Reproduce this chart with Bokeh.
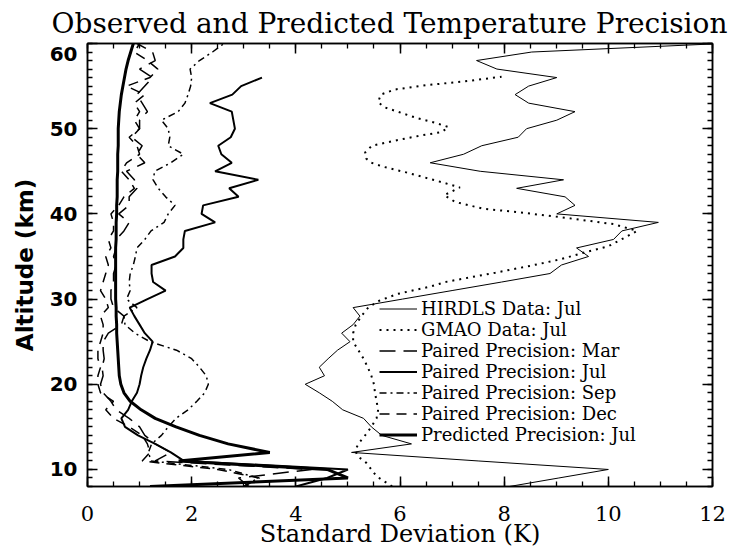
from bokeh.plotting import figure
from bokeh.models import Range1d, LinearAxis, Legend, LegendItem, SingleIntervalTicker
from bokeh.embed import file_html
from bokeh.resources import INLINE

# ---------------- data ----------------
alt_full = list(range(8, 61))          # 8 .. 60 km

hirdls_jul = [8.1, 9.05, 10.0, 7.5, 5.07, 6.22, 5.65, 5.45, 5.3, 4.9,
              4.7, 4.45, 4.18, 4.55, 4.45, 4.62, 4.8, 5.04, 4.88, 5.1,
              5.23, 5.1, 6.05, 7.0, 7.95, 8.88, 9.1, 9.62, 9.39, 10.1,
              10.26, 10.96, 9.01, 9.36, 9.17, 8.24, 9.14, 7.54, 6.58, 7.22,
              7.57, 8.27, 8.43, 9.01, 9.36, 8.47, 8.21, 8.47, 9.01, 7.86,
              7.47, 8.53, 12.2]

gmao_alt = [8.0, 9.2, 10.0, 10.8, 11.5, 12.2, 13.0, 14.0, 15.0, 16.0,
            17.0, 18.0, 19.0, 20.0, 21.0, 22.0, 23.0, 24.0, 25.0, 26.0,
            27.0, 28.0, 29.0, 29.8, 30.6, 31.5, 32.0, 33.1, 33.9, 34.7,
            35.4, 36.2, 37.0, 38.0, 38.8, 39.6, 40.2, 40.6, 41.4, 42.2,
            43.1, 43.9, 44.4, 44.9, 45.5, 46.0, 46.5, 47.2, 48.0, 48.6,
            49.2, 49.6, 50.2, 50.7, 51.2, 51.7, 52.5, 53.1, 54.0, 54.6,
            55.1, 55.6, 56.1]
gmao_jul = [5.85, 5.55, 5.45, 5.35, 5.2, 5.14, 5.2, 5.33, 5.45, 5.55,
            5.58, 5.55, 5.52, 5.5, 5.45, 5.38, 5.3, 5.2, 5.1, 5.1,
            5.15, 5.26, 5.39, 5.6, 5.95, 6.6, 6.87, 7.83, 8.5, 9.1,
            9.5, 10.0, 10.25, 10.55, 10.1, 9.1, 8.27, 7.6, 7.06, 6.85,
            7.15, 6.7, 6.4, 6.1, 5.7, 5.45, 5.35, 5.33, 5.46, 5.9,
            6.4, 6.8, 6.93, 6.67, 6.35, 6.1, 5.71, 5.58, 5.63, 5.9,
            6.5, 7.3, 7.95]

paired_mar = [3.1, 2.9, 4.3, 1.3, 1.6, 1.3, 1.1, 1.0, 0.8, 0.55,
              0.45, 0.3, 0.25, 0.3, 0.28, 0.32, 0.3, 0.3, 0.4, 0.65,
              0.7, 0.5, 0.45, 0.45, 0.5, 0.5, 0.55, 0.5, 0.55, 0.55,
              0.7, 0.8, 0.6, 0.8, 0.8, 0.95, 0.9, 0.75, 1.1, 0.95,
              1.05, 0.85, 1.0, 1.0, 1.15, 1.05, 0.95, 1.1, 1.25, 1.0,
              1.3, 1.25, 0.95]

alt_jul = list(range(8, 57))
paired_jul = [4.0, 4.6, 5.0, 1.85, 1.6, 1.3, 0.97, 0.72, 0.65, 0.78,
              0.85, 0.95, 1.0, 1.03, 1.07, 1.13, 1.2, 1.25, 1.1, 1.0,
              0.9, 0.81, 1.15, 1.5, 1.26, 1.23, 1.23, 1.68, 1.84, 1.84,
              1.87, 2.45, 2.19, 2.22, 2.9, 2.72, 3.28, 2.45, 2.77, 2.57,
              2.51, 2.75, 2.83, 2.8, 2.77, 2.35, 2.78, 2.95, 3.35]

paired_sep = [3.0, 3.28, 2.7, 1.22, 1.17, 1.23, 1.42, 1.55, 1.7, 1.93,
              2.1, 2.25, 2.32, 2.28, 2.15, 2.0, 1.71, 1.2, 0.91, 0.72,
              0.7, 0.95, 0.75, 0.82, 0.8, 0.82, 0.88, 0.92, 0.95, 1.1,
              1.22, 1.47, 1.55, 1.68, 1.5, 1.36, 1.26, 1.29, 1.6, 1.84,
              1.55, 1.58, 1.55, 1.42, 1.74, 1.87, 1.93, 1.98, 2.0, 1.97,
              2.15, 2.4, 2.62]

paired_dec = [3.0, 3.3, 2.5, 1.05, 1.2, 1.15, 1.05, 0.8, 0.5, 0.35,
              0.5, 0.25, 0.2, 0.2, 0.25, 0.2, 0.2, 0.25, 0.3, 0.3,
              0.25, 0.4, 0.35, 0.25, 0.3, 0.35, 0.4, 0.35, 0.45, 0.4,
              0.5, 0.5, 0.45, 0.6, 0.7, 0.9, 0.8, 0.65, 0.75, 1.0,
              0.95, 0.8, 1.0, 0.9, 1.0, 0.9, 1.1, 0.75, 1.2, 1.35,
              1.15, 0.9, 1.0]

predicted_jul = [1.2, 5.0, 4.6, 1.75, 3.5, 2.7, 2.15, 1.7, 1.3, 1.03,
                 0.82, 0.7, 0.64, 0.61, 0.6, 0.59, 0.58, 0.57, 0.56, 0.56,
                 0.55, 0.55, 0.54, 0.54, 0.54, 0.54, 0.54, 0.54, 0.54, 0.55,
                 0.55, 0.55, 0.56, 0.56, 0.57, 0.57, 0.57, 0.58, 0.58, 0.58,
                 0.59, 0.59, 0.59, 0.6, 0.61, 0.63, 0.65, 0.68, 0.71, 0.74,
                 0.78, 0.83, 0.88]

TITLE = "Observed and Predicted Temperature Precision"
XLABEL = "Standard Deviation (K)"
YLABEL = "Altitude (km)"
labels = ["HIRDLS Data: Jul", "GMAO Data: Jul", "Paired Precision: Mar",
          "Paired Precision: Jul", "Paired Precision: Sep",
          "Paired Precision: Dec", "Predicted Precision: Jul"]

SERIF = "DejaVu Serif"
SANS = "DejaVu Sans"

# ---------------- figure ----------------
p = figure(width=742, height=552, output_backend="svg", toolbar_location=None,
           x_range=Range1d(0, 12), y_range=Range1d(8, 60),
           min_border_left=87, min_border_right=30, min_border_top=43,
           min_border_bottom=66)
p.xgrid.visible = False
p.ygrid.visible = False
p.outline_line_color = "black"
p.outline_line_width = 1.5
p.background_fill_color = "white"
p.border_fill_color = "white"

p.title.text = TITLE
p.title.text_font = SERIF
p.title.text_font_size = "28px"
p.title.text_font_style = "normal"
p.title.text_color = "black"
p.title.align = "left"
p.title.offset = -36
p.title.standoff = 8


def xticker():
    return SingleIntervalTicker(interval=2, num_minor_ticks=4)


def yticker():
    return SingleIntervalTicker(interval=10, num_minor_ticks=10)


def style_axis(ax):
    ax.axis_line_width = 1.5
    ax.axis_line_color = "black"
    ax.major_tick_line_color = "black"
    ax.minor_tick_line_color = "black"
    ax.major_tick_line_width = 1.5
    ax.minor_tick_line_width = 1.3
    ax.major_tick_in = 10
    ax.major_tick_out = 0
    ax.minor_tick_in = 5
    ax.minor_tick_out = 0


xb = p.xaxis[0]
xb.ticker = xticker()
style_axis(xb)
xb.major_label_text_font = SERIF
xb.major_label_text_font_size = "21px"
xb.major_label_text_color = "black"
xb.major_label_standoff = 19
xb.axis_label = XLABEL
xb.axis_label_text_font = SERIF
xb.axis_label_text_font_size = "24px"
xb.axis_label_text_font_style = "normal"
xb.axis_label_text_color = "black"
xb.axis_label_standoff = -4

yl = p.yaxis[0]
yl.ticker = yticker()
style_axis(yl)
yl.major_label_text_font = SANS
yl.major_label_text_font_size = "20px"
yl.major_label_text_font_style = "bold"
yl.major_label_text_color = "black"
yl.major_label_text_line_height = 0.9
yl.major_label_standoff = 10
yl.major_label_overrides = {60: "\n60"}
yl.axis_label = YLABEL
yl.axis_label_text_font = SANS
yl.axis_label_text_font_size = "23px"
yl.axis_label_text_font_style = "bold"
yl.axis_label_text_color = "black"
yl.axis_label_standoff = 9

for loc, tk in (("right", yticker()), ("above", xticker())):
    ax = LinearAxis(ticker=tk)
    style_axis(ax)
    ax.major_label_text_font_size = "1px"
    ax.major_label_text_color = None
    ax.major_label_standoff = 0
    p.add_layout(ax, loc)

# ---------------- lines ----------------
r_hirdls = p.line(hirdls_jul, alt_full, line_color="black", line_width=1)
r_gmao = p.line(gmao_jul, gmao_alt, line_color="black", line_width=2,
                line_dash="2 5")
r_mar = p.line(paired_mar, alt_full, line_color="black", line_width=1.5,
               line_dash="16 8")
r_jul = p.line(paired_jul, alt_jul, line_color="black", line_width=2)
r_sep = p.line(paired_sep, alt_full, line_color="black", line_width=1.5,
               line_dash="7 4 2 4")
r_dec = p.line(paired_dec, alt_full, line_color="black", line_width=1.5,
               line_dash="10 7")
r_pred = p.line(predicted_jul, alt_full, line_color="black", line_width=3)

rends = [r_hirdls, r_gmao, r_mar, r_jul, r_sep, r_dec, r_pred]

# one single-row legend per entry, so the rows can be packed tightly
row_pitch = 21
first_bottom = 167
for i, (lab, r) in enumerate(zip(labels, rends)):
    lg = Legend(items=[LegendItem(label=lab, renderers=[r])],
                location=(292, first_bottom - i * row_pitch),
                padding=0, margin=0, spacing=0,
                glyph_width=38, glyph_height=21, label_height=21,
                label_standoff=4, label_text_font=SERIF,
                label_text_font_size="18px", label_text_color="black",
                background_fill_alpha=0, border_line_alpha=0)
    p.add_layout(lg)

open("out.html", "w").write(file_html(p, INLINE))
